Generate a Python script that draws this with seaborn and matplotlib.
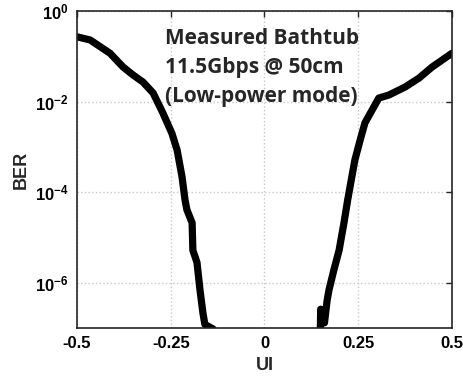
import numpy as np
import pandas as pd
import matplotlib
matplotlib.use('Agg')
import matplotlib.pyplot as plt
import seaborn as sns

# measured bathtub
left_ui = [-0.5, -0.465, -0.412, -0.377, -0.351, -0.324, -0.297, -0.271, -0.247, -0.233,
           -0.220, -0.212, -0.207, -0.193, -0.191, -0.180, -0.172, -0.164, -0.159, -0.137]
left_ber = [0.27, 0.23, 0.117, 0.058, 0.039, 0.027, 0.0155, 5.6e-3, 2.0e-3, 8.5e-4,
            2.2e-4, 6.8e-5, 4.1e-5, 2.1e-5, 5.2e-6, 2.8e-6, 6.9e-7, 2.1e-7, 1.2e-7, 0.95e-7]
right_ui = [0.149, 0.150, 0.160, 0.167, 0.172, 0.185, 0.199, 0.212, 0.222, 0.241,
            0.255, 0.268, 0.287, 0.305, 0.332, 0.375, 0.412, 0.447, 0.481, 0.5]
right_ber = [0.95e-7, 2.6e-7, 1.3e-7, 4e-7, 6.9e-7, 1.9e-6, 5.2e-6, 2.1e-5, 6.8e-5, 5.1e-4,
             1.4e-3, 3.4e-3, 6.5e-3, 1.2e-2, 1.4e-2, 2.1e-2, 3.3e-2, 5.8e-2, 9.1e-2, 0.117]

x_ticks = [-0.5, -0.25, 0, 0.25, 0.5]
x_ticklabels = ['-0.5', '-0.25', '0', '0.25', '0.5']
y_ticks = [1e-6, 1e-4, 1e-2, 1e0]
y_ticklabels = [r'$\mathbf{10^{-6}}$', r'$\mathbf{10^{-4}}$', r'$\mathbf{10^{-2}}$', r'$\mathbf{10^{0}}$']
note = 'Measured Bathtub\n11.5Gbps @ 50cm\n(Low-power mode)'

df = pd.concat([
    pd.DataFrame({'UI': left_ui, 'BER': left_ber, 'side': 'left'}),
    pd.DataFrame({'UI': right_ui, 'BER': right_ber, 'side': 'right'}),
])

sns.set_style('white')
plt.rcParams['font.family'] = ['Liberation Sans', 'DejaVu Sans']
plt.rcParams['mathtext.fontset'] = 'custom'
plt.rcParams['mathtext.bf'] = 'Liberation Sans:bold'
plt.rcParams['mathtext.rm'] = 'Liberation Sans'

fig = plt.figure(figsize=(4.64, 3.83), dpi=100)
ax = fig.add_axes([0.166, 0.1436, 0.808, 0.8275])

sns.lineplot(data=df, x='UI', y='BER', units='side', estimator=None, sort=False,
             color='black', linewidth=5.2, ax=ax, legend=False,
             solid_joinstyle='round')

ax.set_yscale('log')
ax.set_xlim(-0.5, 0.5)
ax.set_ylim(1e-7, 1)
ax.set_xticks(x_ticks)
ax.set_xticklabels(x_ticklabels, fontweight='bold', fontsize=12)
ax.set_yticks(y_ticks)
ax.set_yticklabels(y_ticklabels, fontsize=12)
ax.minorticks_off()
ax.grid(True, linestyle=':', color='#c8c8c8', linewidth=1)
ax.tick_params(direction='in', length=4, width=1, top=True, right=True, colors='#262626')
ax.tick_params(labelcolor='black', pad=6)
for s in ax.spines.values():
    s.set_visible(True)
    s.set_color('#262626')
    s.set_linewidth(1.2)

ax.set_xlabel('UI', fontweight='bold', fontsize=13, labelpad=4)
ax.set_ylabel('BER', fontweight='bold', fontsize=13, labelpad=4)

ax.text(0.235, 0.945, note, transform=ax.transAxes, ha='left', va='top',
        fontsize=15, fontweight='bold', family=['Open Sans', 'DejaVu Sans'], linespacing=1.5)

fig.savefig('out.png', dpi=100)
